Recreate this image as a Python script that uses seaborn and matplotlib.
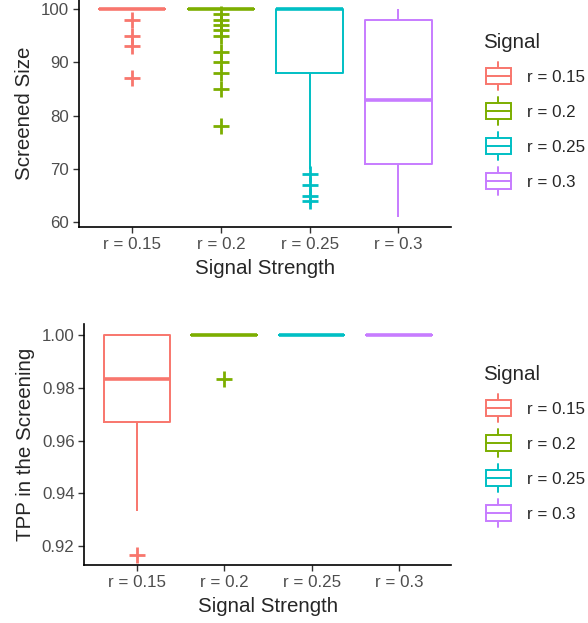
import numpy as np
import pandas as pd
import matplotlib
matplotlib.use("Agg")
import matplotlib.pyplot as plt
import seaborn as sns
from matplotlib.legend_handler import HandlerBase
from matplotlib.patches import Rectangle, Patch
from matplotlib.lines import Line2D

# ---------------- data ----------------
signals = ["r = 0.15", "r = 0.2", "r = 0.25", "r = 0.3"]
colors = ["#F8766D", "#7CAE00", "#00BFC4", "#C77CFF"]

# Screened size (value, count) per signal
size_r015_values = [100, 98, 95, 93, 87]
size_r015_counts = [46, 1, 1, 1, 1]
size_r020_values = [100, 99, 98, 97, 96, 95, 92, 90, 88, 85, 78]
size_r020_counts = [40, 1, 1, 1, 1, 1, 1, 1, 1, 1, 1]
size_r025_values = [100, 88, 70, 69, 67, 65, 64]
size_r025_counts = [15, 1, 1, 1, 1, 1, 1]
size_r030_values = [100, 98, 83, 71, 61]
size_r030_counts = [1, 1, 1, 1, 1]

# TPP in the screening (value, count) per signal
tpp_r015_values = [1.0, 0.9833, 0.967, 0.9333, 0.9167]
tpp_r015_counts = [4, 1, 2, 1, 1]
tpp_r020_values = [1.0, 0.9833]
tpp_r020_counts = [9, 1]
tpp_r025_values = [1.0]
tpp_r025_counts = [10]
tpp_r030_values = [1.0]
tpp_r030_counts = [10]


def build(pairs, col):
    rows = []
    for sig, (vals, cnts) in zip(signals, pairs):
        for v in np.repeat(vals, cnts):
            rows.append((sig, float(v)))
    return pd.DataFrame(rows, columns=["Signal", col])


df_size = build([(size_r015_values, size_r015_counts),
                 (size_r020_values, size_r020_counts),
                 (size_r025_values, size_r025_counts),
                 (size_r030_values, size_r030_counts)], "Size")
df_tpp = build([(tpp_r015_values, tpp_r015_counts),
                (tpp_r020_values, tpp_r020_counts),
                (tpp_r025_values, tpp_r025_counts),
                (tpp_r030_values, tpp_r030_counts)], "TPP")

# ---------------- style ----------------
sns.set_style("ticks")
plt.rcParams["font.family"] = ["Liberation Sans", "DejaVu Sans"]

TICK_FS = 12.2
TITLE_FS = 14.8
LW = 1.4

fig = plt.figure(figsize=(5.88, 6.23), dpi=100)
W, H = 588.0, 623.0


def axes_px(l, r, t, b):
    return fig.add_axes([l / W, 1 - b / H, (r - l) / W, (b - t) / H])


ax1 = axes_px(79, 451.5, -1.4, 227.4)
ax2 = axes_px(84.3, 451.5, 324, 565)


class BoxKeyHandler(HandlerBase):
    def create_artists(self, legend, orig_handle, xdescent, ydescent,
                       width, height, fontsize, trans):
        c = orig_handle.get_edgecolor()
        x0 = -xdescent + 1.8
        yc = -ydescent + height / 2
        span = 20.0   # whisker span (pt)
        bh = 11.5     # box height (pt)
        rect = Rectangle((x0, yc - bh / 2), width, bh, facecolor="white",
                         edgecolor=c, lw=LW, transform=trans)
        med = Line2D([x0, x0 + width], [yc] * 2, color=c, lw=LW,
                     transform=trans)
        wt = Line2D([x0 + width / 2] * 2, [yc + bh / 2, yc + span / 2],
                    color=c, lw=LW, transform=trans)
        wb = Line2D([x0 + width / 2] * 2, [yc - span / 2, yc - bh / 2],
                    color=c, lw=LW, transform=trans)
        return [wt, wb, rect, med]


def draw(ax, df, col, ylabel, ylim, yticks, yfmt, legend_top):
    sns.boxplot(data=df, x="Signal", y=col, hue="Signal", order=signals,
                hue_order=signals, palette=colors, fill=False, width=0.75,
                dodge=False, linewidth=LW, showcaps=False, legend=False,
                whis=1.5,
                flierprops=dict(marker="+", markersize=11,
                                markeredgewidth=2.0),
                medianprops=dict(linewidth=2.6),
                ax=ax)
    ax.set_xlim(-0.6, 3.6)
    ax.set_ylim(*ylim)
    ax.set_yticks(yticks)
    ax.set_yticklabels([yfmt.format(v) for v in yticks])
    sns.despine(ax=ax)
    for s in ["left", "bottom"]:
        ax.spines[s].set_linewidth(1.2)
        ax.spines[s].set_color("black")
    ax.tick_params(axis="both", length=4, width=1.0, color="#333333",
                   labelsize=TICK_FS, labelcolor="#4D4D4D", pad=3)
    ax.set_xlabel("Signal Strength", fontsize=TITLE_FS, labelpad=5)
    ax.set_ylabel(ylabel, fontsize=TITLE_FS, labelpad=5)

    handles = [Patch(edgecolor=c, facecolor="white") for c in colors]
    leg = fig.legend(handles, signals, loc="upper left",
                     bbox_to_anchor=(483 / W, 1 - legend_top / H),
                     frameon=False, title="Signal",
                     title_fontsize=TITLE_FS, fontsize=TICK_FS,
                     handler_map={Patch: BoxKeyHandler()},
                     handlelength=1.5, handleheight=1.6,
                     labelspacing=0.78, handletextpad=1.12,
                     borderpad=0, borderaxespad=0)
    leg._legend_box.align = "left"


draw(ax1, df_size, "Size", "Screened Size", (59.05, 101.95),
     [60, 70, 80, 90, 100], "{:.0f}", 33)
draw(ax2, df_tpp, "TPP", "TPP in the Screening", (0.91283, 1.00417),
     [0.92, 0.94, 0.96, 0.98, 1.00], "{:.2f}", 365)

fig.savefig("out.png", dpi=100)
